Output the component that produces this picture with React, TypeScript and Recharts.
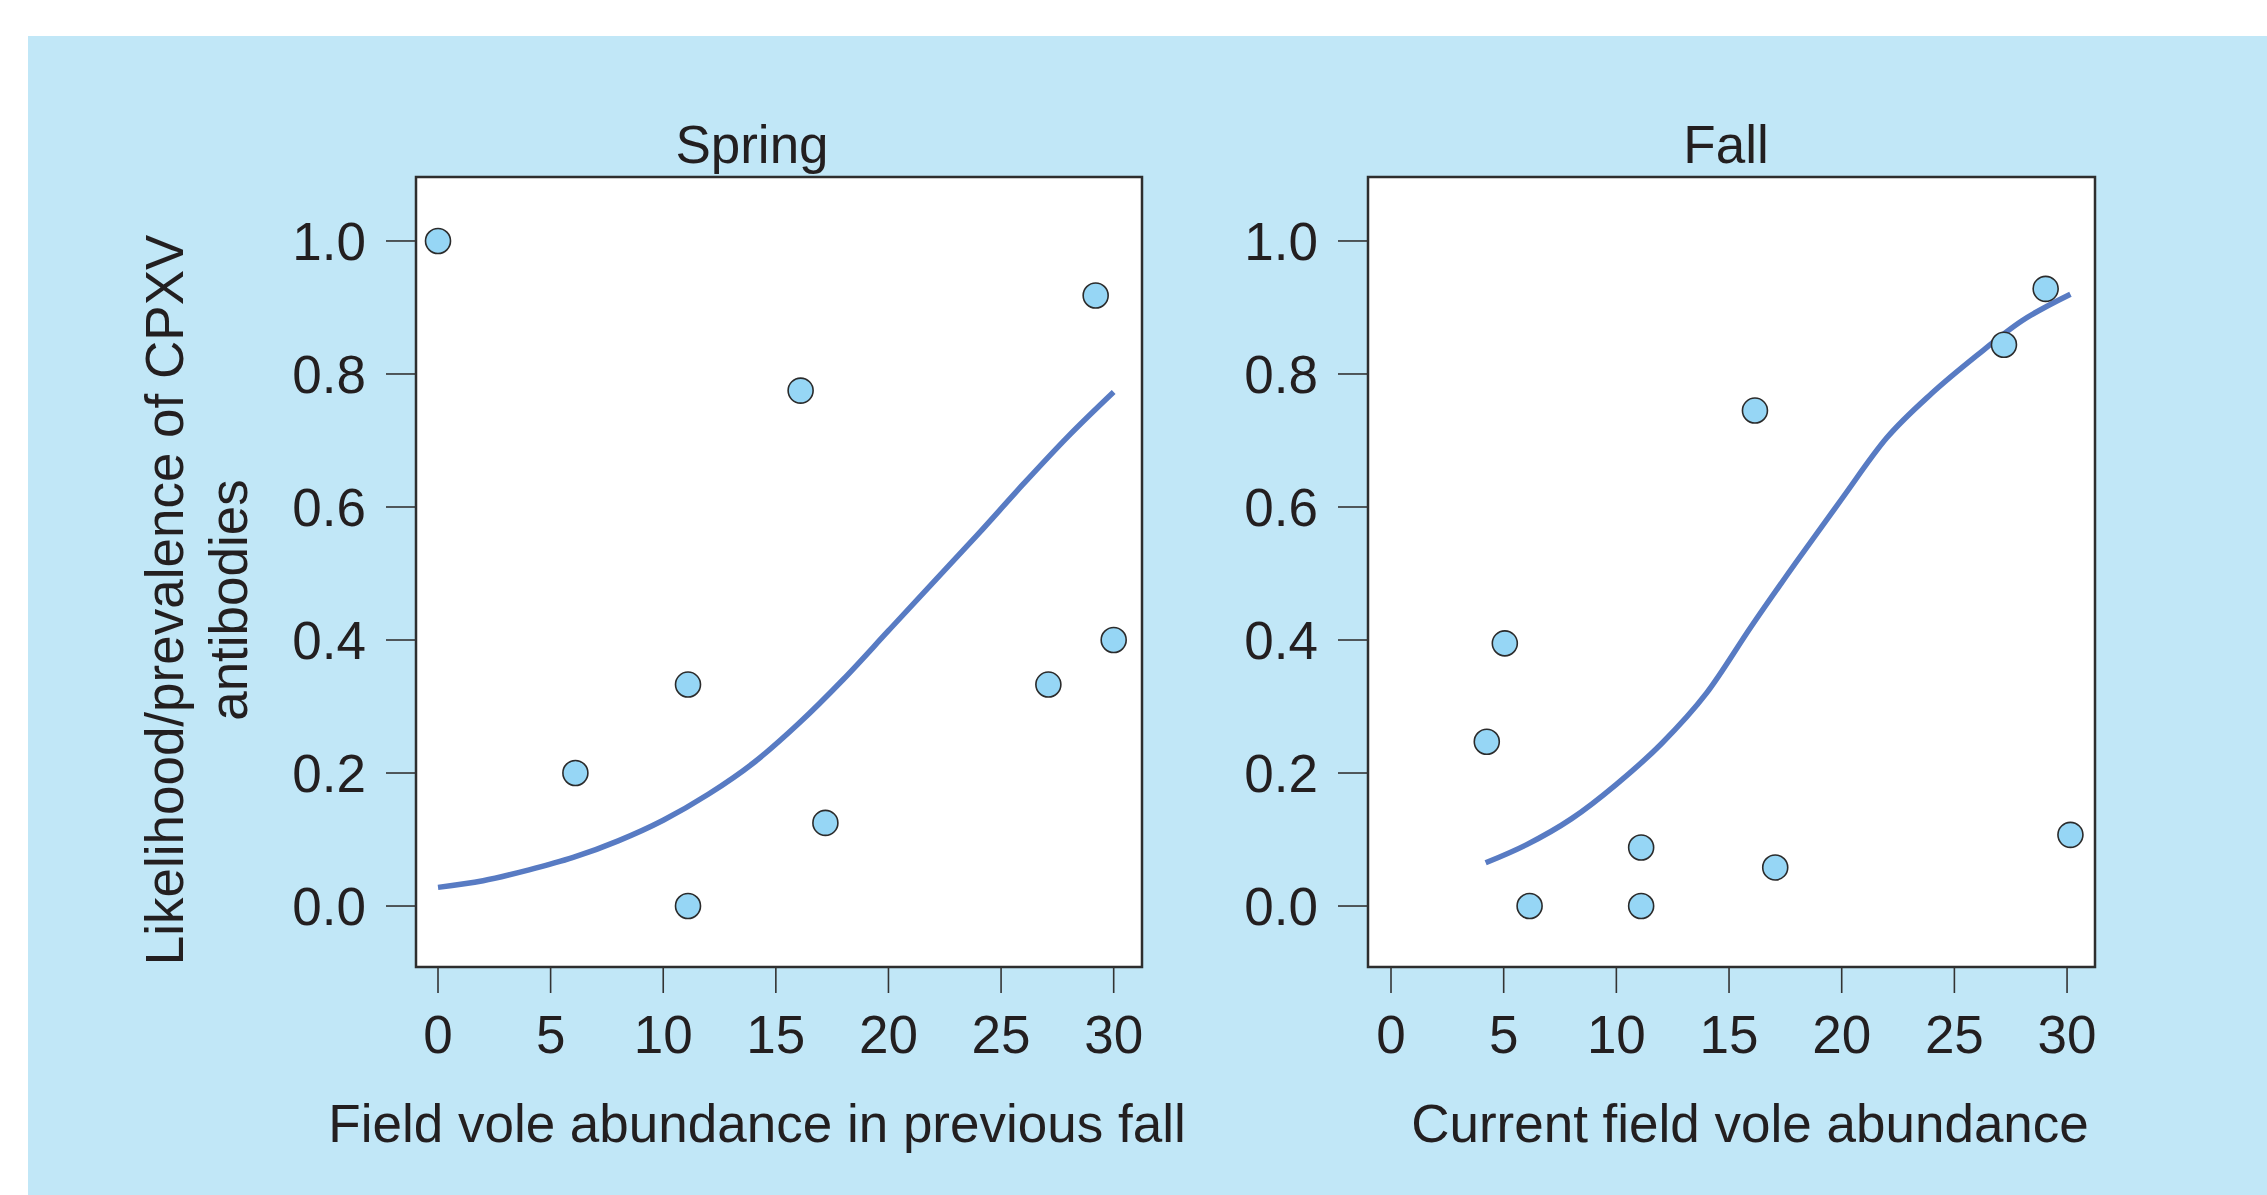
import React from "react";
import {
  ComposedChart,
  XAxis,
  YAxis,
  Line,
  Scatter,
  CartesianGrid,
  ReferenceArea,
} from "recharts";

// ---- Data ----
const springPointX = [0, 6.1, 11.1, 11.1, 16.1, 17.2, 27.1, 29.2, 30.0];
const springPointY = [1.0, 0.2, 0.333, 0.0, 0.775, 0.125, 0.333, 0.918, 0.4];

const springCurveX = [0, 2, 4, 6, 8, 10, 12, 14, 16, 18, 20, 22, 24, 26, 28, 30];
const springCurveY = [0.028, 0.038, 0.054, 0.073, 0.098, 0.129, 0.168, 0.215, 0.274, 0.341, 0.414, 0.487, 0.56, 0.635, 0.707, 0.773];

const fallPointX = [4.25, 5.05, 6.15, 11.1, 11.1, 16.15, 17.05, 27.2, 29.05, 30.15];
const fallPointY = [0.247, 0.395, 0.0, 0.088, 0.0, 0.745, 0.058, 0.844, 0.928, 0.107];

const fallCurveX = [4.2, 6, 8, 10, 12, 14, 16, 18, 20, 22, 24, 26, 28, 30.15];
const fallCurveY = [0.065, 0.092, 0.131, 0.183, 0.244, 0.32, 0.421, 0.518, 0.612, 0.704, 0.771, 0.828, 0.88, 0.92];

const xTicks = [0, 5, 10, 15, 20, 25, 30];
const yTicks = [0, 0.2, 0.4, 0.6, 0.8, 1.0];

const panelTitles = ["Spring", "Fall"];
const xTitles = ["Field vole abundance in previous fall", "Current field vole abundance"];
const yTitleLines = ["Likelihood/prevalence of CPXV", "antibodies"];

// ---- Styles ----
const FONT = "'Liberation Sans', Arial, Helvetica, sans-serif";
const TEXT = "#231f20";
const BG = "#c1e7f7";
const POINT_FILL = "#96d6f5";
const LINE_COLOR = "#587bc3";
const FS = 53;

const zip = (xs: number[], ys: number[]) => xs.map((x, i) => ({ x, y: ys[i] }));

const Dot = (props: any) => {
  const { cx, cy } = props;
  if (cx == null || cy == null) return null;
  return <circle cx={cx} cy={cy} r={12.5} fill={POINT_FILL} stroke="#2b2b2b" strokeWidth={1.6} />;
};

type PanelProps = {
  left: number;
  width: number;
  margin: { top: number; right: number; bottom: number; left: number };
  xDomain: [number, number];
  points: { x: number; y: number }[];
  curve: { x: number; y: number }[];
};

const Y_DOMAIN: [number, number] = [-0.0917, 1.0962];

const Panel = ({ left, width, margin, xDomain, points, curve }: PanelProps) => (
  <div style={{ position: "absolute", left, top: 0 }}>
    <ComposedChart width={width} height={1195} margin={margin}>
      <CartesianGrid horizontal={false} vertical={false} fill="#ffffff" />
      <XAxis
        type="number"
        dataKey="x"
        domain={xDomain}
        allowDataOverflow
        ticks={xTicks}
        interval={0}
        height={100}
        axisLine={false}
        tickSize={26}
        tickMargin={22}
        tickLine={{ stroke: "#333", strokeWidth: 1.6 }}
        tick={{ fontSize: FS, fill: TEXT, fontFamily: FONT }}
      />
      <YAxis
        type="number"
        dataKey="y"
        domain={Y_DOMAIN}
        allowDataOverflow
        ticks={yTicks}
        interval={0}
        width={130}
        axisLine={false}
        tickSize={30}
        tickMargin={20}
        tickLine={{ stroke: "#333", strokeWidth: 1.6 }}
        tickFormatter={(v: number) => v.toFixed(1)}
        tick={{ fontSize: FS, fill: TEXT, fontFamily: FONT }}
      />
      <ReferenceArea
        x1={xDomain[0]}
        x2={xDomain[1]}
        y1={Y_DOMAIN[0]}
        y2={Y_DOMAIN[1]}
        fill="none"
        fillOpacity={0}
        stroke="#2e2e2e"
        strokeWidth={2.5}
        ifOverflow="visible"
      />
      <Line
        data={curve}
        dataKey="y"
        type="monotone"
        stroke={LINE_COLOR}
        strokeWidth={5.5}
        dot={false}
        activeDot={false}
        isAnimationActive={false}
      />
      <Scatter data={points} dataKey="y" shape={<Dot />} isAnimationActive={false} />
    </ComposedChart>
  </div>
);

export default function App() {
  return (
    <div
      style={{
        position: "absolute",
        left: 0,
        top: 0,
        width: 2267,
        height: 1195,
        background: "#ffffff",
        overflow: "hidden",
        fontFamily: FONT,
      }}
    >
      <div style={{ position: "absolute", left: 28, top: 36, width: 2239, height: 1159, background: BG }} />
      <Panel
        left={0}
        width={1200}
        margin={{ top: 177, right: 58, bottom: 128, left: 286 }}
        xDomain={[-0.977, 31.257]}
        points={zip(springPointX, springPointY)}
        curve={zip(springCurveX, springCurveY)}
      />
      <Panel
        left={1150}
        width={1117}
        margin={{ top: 177, right: 172, bottom: 128, left: 88 }}
        xDomain={[-1.021, 31.24]}
        points={zip(fallPointX, fallPointY)}
        curve={zip(fallCurveX, fallCurveY)}
      />
      <svg
        width={2267}
        height={1195}
        style={{ position: "absolute", left: 0, top: 0, pointerEvents: "none" }}
      >
        <g fill={TEXT} fontFamily={FONT} fontSize={FS} textAnchor="middle">
          <text x={752} y={163}>{panelTitles[0]}</text>
          <text x={1726} y={163}>{panelTitles[1]}</text>
          <text x={757} y={1142}>{xTitles[0]}</text>
          <text x={1750} y={1142}>{xTitles[1]}</text>
          <text x={183} y={600} transform="rotate(-90 183 600)">{yTitleLines[0]}</text>
          <text x={247} y={600} transform="rotate(-90 247 600)">{yTitleLines[1]}</text>
        </g>
      </svg>
    </div>
  );
}
